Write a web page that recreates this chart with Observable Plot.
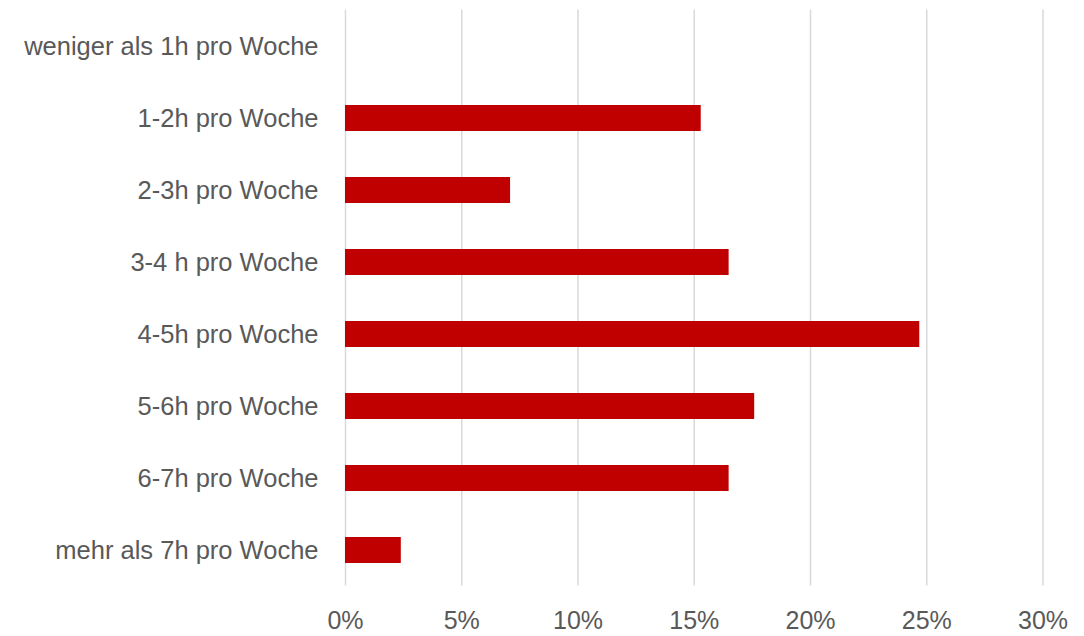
<!DOCTYPE html>
<html>
<head>
<meta charset="utf-8">
<script src="https://cdn.jsdelivr.net/npm/d3@7"></script>
<script src="https://cdn.jsdelivr.net/npm/@observablehq/plot@0.6"></script>
<style>
  html, body { margin: 0; padding: 0; background: #fff; }
  #chart svg { display: block; }
</style>
</head>
<body>
<div id="chart"></div>
<script>
const categories = [
  "weniger als 1h pro Woche",
  "1-2h pro Woche",
  "2-3h pro Woche",
  "3-4 h pro Woche",
  "4-5h pro Woche",
  "5-6h pro Woche",
  "6-7h pro Woche",
  "mehr als 7h pro Woche"
];
const values = [0, 0.153, 0.071, 0.165, 0.247, 0.176, 0.165, 0.024];
const xTicks = [0, 0.05, 0.10, 0.15, 0.20, 0.25, 0.30];

const data = categories.map((c, i) => ({category: c, value: values[i]}));

const fontFamily = "'Liberation Sans', Arial, sans-serif";
const pct = d => Math.round(d * 100) + "%";

const chart = Plot.plot({
  width: 1084,
  height: 636,
  marginLeft: 345,
  marginRight: 41.5,
  marginTop: 9.5,
  marginBottom: 50.5,
  style: {fontFamily, color: "#595959", background: "#fff"},
  x: {domain: [0, 0.30], ticks: xTicks, tickFormat: pct, label: null},
  y: {domain: categories, paddingInner: 0.645, paddingOuter: 0.3225, align: 0.5, label: null},
  marks: [
    Plot.gridX(xTicks, {stroke: "#d9d9d9", strokeOpacity: 1, strokeWidth: 1.5}),
    Plot.barX(data, {x: "value", y: "category", fill: "#c00000"}),
    Plot.axisX(xTicks, {tickSize: 0, tickPadding: 25, fontSize: 25, fill: "#595959", tickFormat: pct, label: null}),
    Plot.axisY({tickSize: 0, tickPadding: 27, fontSize: 25.5, fill: "#595959", label: null})
  ]
});
document.getElementById("chart").appendChild(chart);
</script>
</body>
</html>
